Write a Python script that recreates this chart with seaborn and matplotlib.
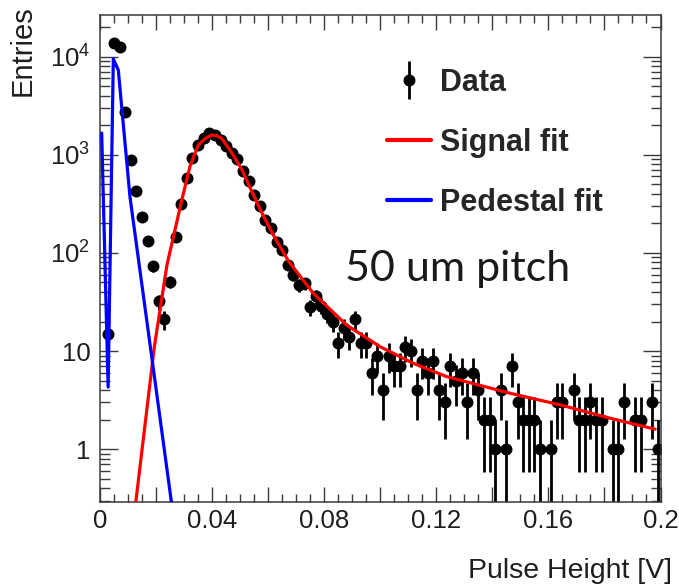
import numpy as np
import matplotlib
matplotlib.use("Agg")
import matplotlib.pyplot as plt
import seaborn as sns
from matplotlib.ticker import MultipleLocator, LogLocator, NullFormatter
from matplotlib.container import ErrorbarContainer
from matplotlib.legend_handler import HandlerErrorbar
from matplotlib.lines import Line2D

# ---------------- data ----------------
bin_low, bin_high, n_bins = 0.0, 0.2, 100
counts = [
    0, 15, 13700, 12500, 2720, 884, 427, 232, 132, 73,
    32, 21, 51, 146, 315, 575, 918, 1256, 1470, 1650,
    1580, 1420, 1230, 1050, 900, 690, 540, 390, 300, 215,
    180, 130, 108, 75, 60, 47, 49, 28, 36, 29,
    24, 20, 12, 17, 14, 21, 12, 12, 6, 9,
    4, 9, 7, 7, 11, 10, 4, 8, 6, 8,
    4, 3, 7, 5, 6, 3, 6, 4, 2, 2,
    1, 4, 1, 7, 3, 2, 2, 2, 1, 0,
    1, 3, 3, 0, 4, 2, 2, 3, 2, 2,
    0, 1, 1, 3, 0, 2, 2, 0, 3, 1,
]

signal_fit_x = [0.0121, 0.0194, 0.0239, 0.0262, 0.0292, 0.0321, 0.0351, 0.0375,
                0.0399, 0.0415, 0.0434, 0.0470, 0.0506, 0.0541, 0.0577, 0.0625,
                0.0672, 0.0761, 0.0880, 0.0999, 0.1118, 0.1237, 0.1463, 0.1642,
                0.1820, 0.1981]
signal_fit_y = [0.20, 11.1, 75.5, 146, 346, 760, 1256, 1460,
                1586, 1570, 1469, 1050, 708, 427, 257, 141,
                83, 38.8, 18.4, 11.1, 7.5, 5.49, 3.72, 2.83,
                2.07, 1.60]

pedestal_fit_x = [0.0006, 0.0029, 0.00475, 0.00653, 0.0107, 0.0259]
pedestal_fit_y = [1663, 4.3, 9440, 7290, 371, 0.237]

legend_labels = ["Data", "Signal fit", "Pedestal fit"]
x_label = "Pulse Height [V]"
y_label = "Entries"
annotation = "50 um pitch"
x_tick_values = [0.0, 0.02, 0.04, 0.06, 0.08, 0.10, 0.12, 0.14, 0.16, 0.18, 0.20]
x_tick_labels = ["0", "", "0.04", "", "0.08", "", "0.12", "", "0.16", "", "0.2"]
y_tick_values = [1, 10, 100, 1000, 10000]
y_tick_labels = ["1", "10", r"$\mathregular{10^{2}}$", r"$\mathregular{10^{3}}$",
                 r"$\mathregular{10^{4}}$"]

# ---------------- style ----------------
sns.set_theme(style="ticks")
plt.rcParams["font.family"] = ["Liberation Sans", "DejaVu Sans"]
plt.rcParams["mathtext.fontset"] = "custom"
plt.rcParams["mathtext.rm"] = "Liberation Sans"
plt.rcParams["mathtext.it"] = "Liberation Sans:italic"
plt.rcParams["mathtext.bf"] = "Liberation Sans:bold"

W, H = 679, 586
fig = plt.figure(figsize=(W / 100, H / 100), dpi=100)
ax = fig.add_axes([100 / W, (H - 502) / H, 560.5 / W, 487 / H])

edges = np.linspace(bin_low, bin_high, n_bins + 1)
centers = 0.5 * (edges[:-1] + edges[1:])
cnt = np.array(counts, dtype=float)
mask = cnt > 0
err = np.sqrt(cnt)
err_lo = np.minimum(err, cnt - 1e-4)

eb = ax.errorbar(centers[mask], cnt[mask], yerr=[err_lo[mask], err[mask]],
                 fmt="o", color="black", ms=7.6, elinewidth=2.0, capsize=0,
                 zorder=2, label=legend_labels[0])

sns.lineplot(x=signal_fit_x, y=signal_fit_y, ax=ax, color="#ff0000", lw=2.3,
             zorder=3, label=legend_labels[1], sort=False)
sns.lineplot(x=pedestal_fit_x, y=pedestal_fit_y, ax=ax, color="#0000ff", lw=2.3,
             zorder=3, label=legend_labels[2], sort=False)

ax.set_yscale("log")
ax.set_xlim(0, 0.2)
ax.set_ylim(0.29, 26500)

ax.set_xticks(x_tick_values)
ax.set_xticklabels(x_tick_labels)
ax.xaxis.set_minor_locator(MultipleLocator(0.005))
ax.set_yticks(y_tick_values)
ax.set_yticklabels(y_tick_labels)
ax.yaxis.set_minor_locator(LogLocator(base=10, subs=np.arange(2, 10)))
ax.yaxis.set_minor_formatter(NullFormatter())

tick_col = "#3a3a3a"
ax.tick_params(which="both", direction="in", top=True, right=True,
               color=tick_col, width=1.0, labelcolor="#1e1e1e", labelsize=18.5)
ax.tick_params(axis="x", which="major", length=11, pad=5)
ax.tick_params(axis="x", which="minor", length=5.5)
ax.tick_params(axis="y", which="major", length=13, pad=7)
ax.tick_params(axis="y", which="minor", length=7)
for s in ax.spines.values():
    s.set_color(tick_col)
    s.set_linewidth(1.1)

ax.set_xlabel(x_label, loc="right", fontsize=20.5, color="#1e1e1e")
ax.set_ylabel(y_label, loc="top", fontsize=21, color="#1e1e1e")
ax.xaxis.set_label_coords(672 / W, (H - 558) / H, transform=fig.transFigure)
ax.yaxis.set_label_coords(37 / W, (H - 5) / H, transform=fig.transFigure)

# legend
handles = [eb,
           Line2D([], [], color="#ff0000", lw=3.0),
           Line2D([], [], color="#0000ff", lw=3.0)]
leg = ax.legend(handles, legend_labels, loc="upper left",
                bbox_to_anchor=(386.7 / W, 1 - 68 / H),
                bbox_transform=fig.transFigure, frameon=False,
                prop={"weight": "bold", "size": 22},
                borderpad=0, borderaxespad=0, handlelength=1.45,
                handletextpad=0.30, labelspacing=0.98,
                handler_map={ErrorbarContainer: HandlerErrorbar(yerr_size=0.62)})

fig.text(345 / W, 1 - 281 / H, annotation, fontsize=31, color="#1a1a1a",
         family=["Lato", "DejaVu Sans"], ha="left", va="baseline")

fig.savefig("out.png", dpi=100)
